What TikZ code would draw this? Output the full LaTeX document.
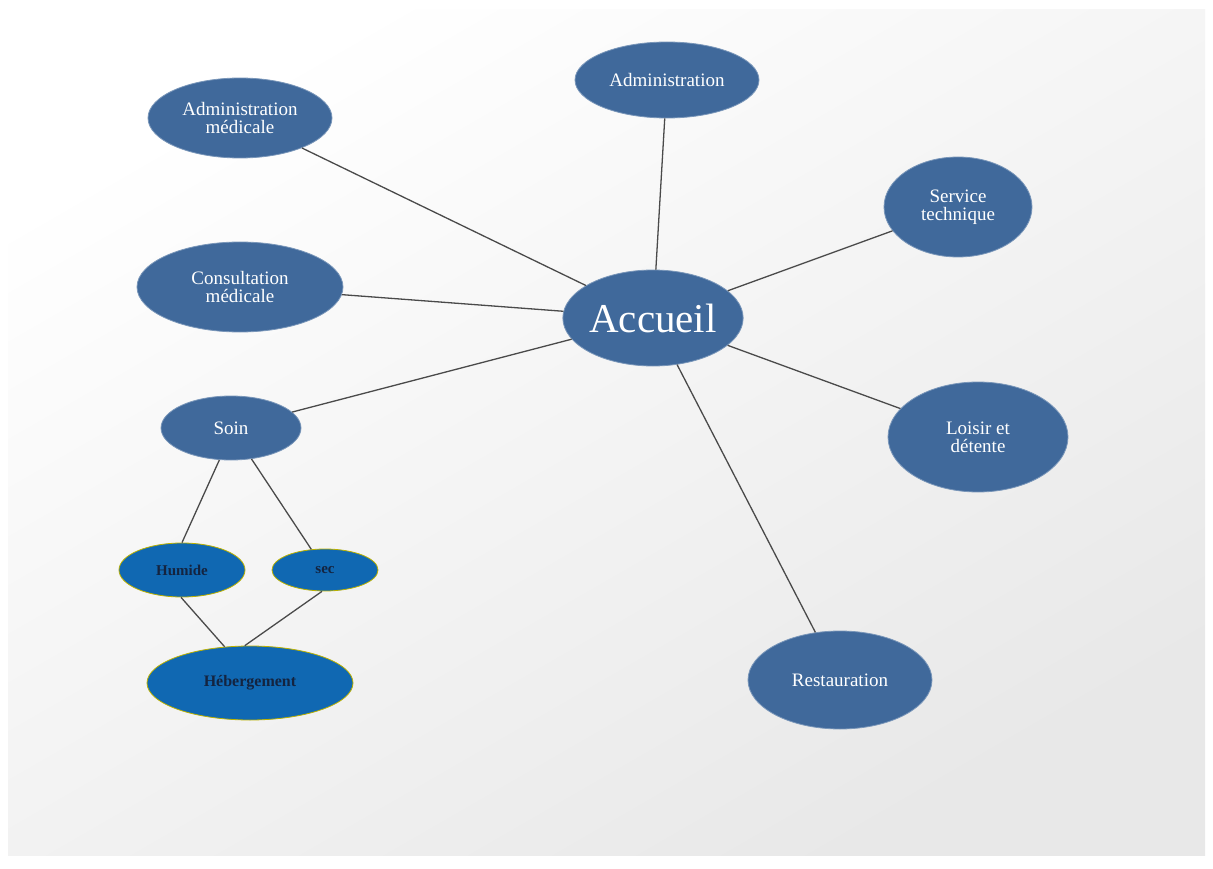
\documentclass[tikz,border=0pt]{standalone}
\usepackage{fontspec}
\setmainfont{Liberation Serif}
\usetikzlibrary{shapes.geometric}
\definecolor{nodeblue}{HTML}{40699B}
\definecolor{brightblue}{HTML}{1068B2}
\definecolor{edgegray}{HTML}{4A4A4A}
\definecolor{darktext}{HTML}{142440}
\begin{document}
\begin{tikzpicture}[x=1pt,y=-1pt,
  bub/.style={ellipse,fill=nodeblue,draw=nodeblue!70!white,line width=0.8pt,text=white,align=center,inner sep=0pt,font=\fontsize{19}{18}\selectfont},
  subbub/.style={ellipse,fill=brightblue,draw=olive!60!yellow,line width=0.8pt,text=darktext,align=center,inner sep=0pt,font=\bfseries\fontsize{15}{15}\selectfont},
  link/.style={draw=edgegray,line width=1.3pt}]
\useasboundingbox (0,0) rectangle (1213,869);
\fill[white] (0,0) rectangle (1213,869);
\shade[shading=axis,top color=white,bottom color=black!9,shading angle=30] (8,10) rectangle (1205,855);
% nodes
\node[bub,minimum width=184pt,minimum height=76pt] (adm) at (667,80) {Administration};
\node[bub,minimum width=184pt,minimum height=80pt] (admmed) at (240,118) {Administration\\médicale};
\node[bub,minimum width=148pt,minimum height=100pt] (serv) at (958,207) {Service\\technique};
\node[bub,minimum width=206pt,minimum height=90pt] (cons) at (240,287) {Consultation\\médicale};
\node[bub,minimum width=180pt,minimum height=96pt,font=\fontsize{41}{41}\selectfont] (acc) at (653,318) {Accueil};
\node[bub,minimum width=140pt,minimum height=64pt] (soin) at (231,428) {Soin};
\node[bub,minimum width=180pt,minimum height=110pt] (loisir) at (978,437) {Loisir et\\détente};
\node[bub,minimum width=184pt,minimum height=98pt] (rest) at (840,680) {Restauration};
\node[subbub,minimum width=126pt,minimum height=54pt] (hum) at (182,570) {Humide};
\node[subbub,minimum width=106pt,minimum height=42pt] (sec) at (325,570) {sec};
\node[subbub,minimum width=206pt,minimum height=74pt,font=\bfseries\fontsize{16}{16}\selectfont] (heb) at (250,683) {Hébergement};
% connectors
\draw[link] (admmed) -- (acc);
\draw[link] (adm) -- (acc);
\draw[link] (serv) -- (acc);
\draw[link] (cons) -- (acc);
\draw[link] (soin) -- (acc);
\draw[link] (loisir) -- (acc);
\draw[link] (rest) -- (acc);
\draw[link] (soin.250) -- (hum.90);
\draw[link] (soin) -- (sec);
\draw[link] (hum.268) -- (heb.125);
\draw[link] (sec.262) -- (heb.98);
\end{tikzpicture}
\end{document}
